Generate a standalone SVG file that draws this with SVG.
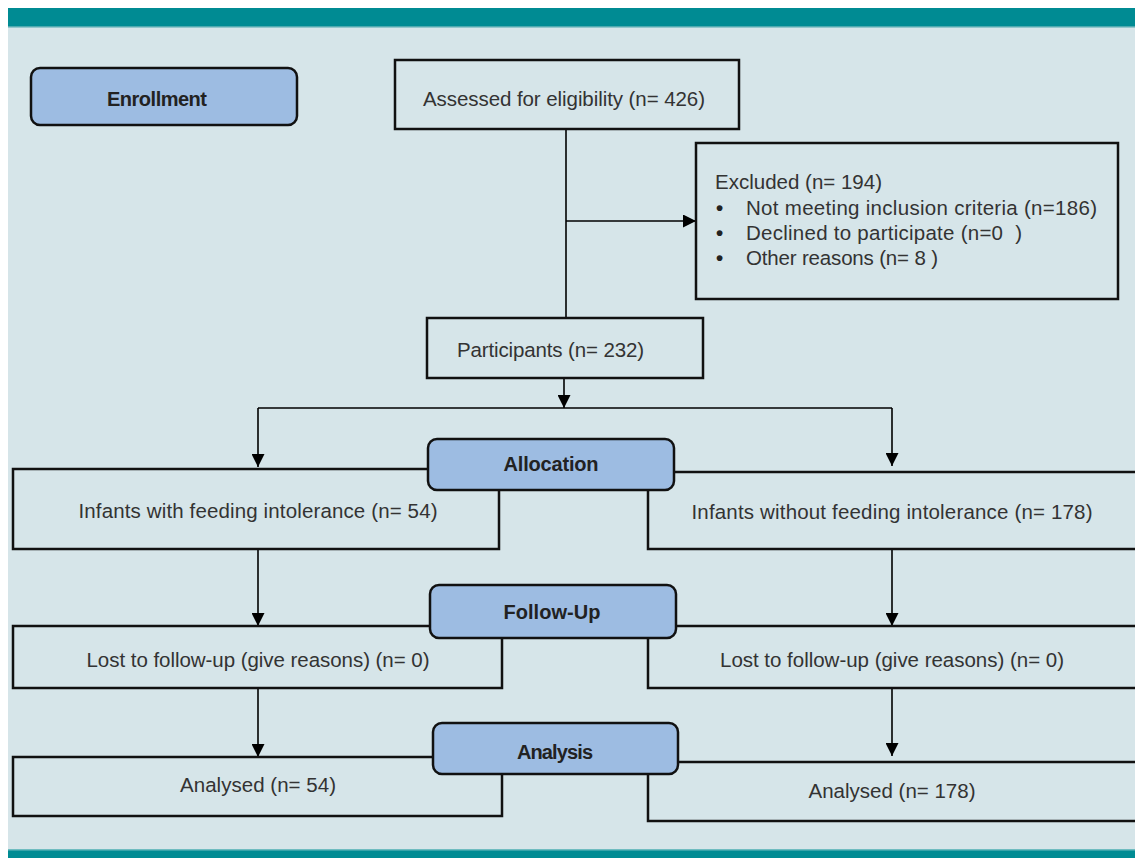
<svg xmlns="http://www.w3.org/2000/svg" width="1135" height="858" viewBox="0 0 1135 858">
<defs>
<marker id="arr" viewBox="0 0 13 13" refX="13" refY="6.5" markerWidth="13" markerHeight="13" markerUnits="userSpaceOnUse" orient="auto">
<path d="M0,0 L13,6.5 L0,13 Z" fill="#000"/>
</marker>
<style>
.box{fill:#D6E5E9;stroke:#111;stroke-width:2.5}
.stage{fill:#9DBCE2;stroke:#111;stroke-width:2.5}
.t{font-family:"Liberation Sans",Arial,sans-serif;font-size:20.5px;fill:#333}
.bul{font-family:"Liberation Sans",Arial,sans-serif;font-size:20.5px;font-weight:bold;fill:#222}
.b{font-family:"Liberation Sans",Arial,sans-serif;font-size:20px;font-weight:bold;fill:#222;text-anchor:middle}
.c{text-anchor:middle}
.ln{fill:none;stroke:#000;stroke-width:1.6}
</style>
</defs>
<rect x="0" y="0" width="1135" height="858" fill="#fff"/>
<rect x="8" y="8" width="1127" height="850" fill="#D6E5E9"/>
<rect x="8" y="8" width="1127" height="18" fill="#008B93"/>
<rect x="8" y="26" width="1127" height="1.5" fill="#4FAAB0"/>
<rect x="8" y="850" width="1127" height="8" fill="#008B93"/>
<rect x="8" y="849" width="1127" height="1.5" fill="#6FBCC0"/>

<g id="connectors">
<path class="ln" d="M566,129 V318"/>
<path class="ln" d="M566,221 H696" marker-end="url(#arr)"/>
<path class="ln" d="M564,378 V408" marker-end="url(#arr)"/>
<path class="ln" d="M258,408 H892"/>
<path class="ln" d="M258,408 V467" marker-end="url(#arr)"/>
<path class="ln" d="M892,408 V466" marker-end="url(#arr)"/>
<path class="ln" d="M258,549 V626" marker-end="url(#arr)"/>
<path class="ln" d="M892,549 V626" marker-end="url(#arr)"/>
<path class="ln" d="M258,688 V757" marker-end="url(#arr)"/>
<path class="ln" d="M892,688 V756" marker-end="url(#arr)"/>
</g>

<g id="enrollment">
<rect class="stage" x="31" y="68" width="266" height="57" rx="9"/>
<text class="b" x="157" y="106" textLength="100">Enrollment</text>
</g>

<g id="assessed">
<rect class="box" x="395" y="60" width="344" height="69"/>
<text class="t" x="423" y="106" textLength="282">Assessed for eligibility (n= 426)</text>
</g>

<g id="excluded">
<rect class="box" x="696" y="143" width="422" height="156"/>
<text class="t" x="715" y="189" textLength="167">Excluded (n= 194)</text>
<text class="bul" x="716" y="215">•</text>
<text class="t" x="746" y="215" textLength="351">Not meeting inclusion criteria (n=186)</text>
<text class="bul" x="716" y="240">•</text>
<text class="t" x="746" y="240" textLength="276" xml:space="preserve">Declined to participate (n=0  )</text>
<text class="bul" x="716" y="265">•</text>
<text class="t" x="746" y="265" textLength="192">Other reasons (n= 8 )</text>
</g>

<g id="participants">
<rect class="box" x="427" y="318" width="276" height="60"/>
<text class="t" x="457" y="357" textLength="187">Participants (n= 232)</text>
</g>

<g id="with-fi">
<rect class="box" x="13" y="469" width="486" height="80"/>
<text class="t c" x="258" y="518" textLength="359">Infants with feeding intolerance (n= 54)</text>
</g>

<g id="without-fi">
<rect class="box" x="648" y="472" width="500" height="77"/>
<text class="t c" x="892" y="519" textLength="401">Infants without feeding intolerance (n= 178)</text>
</g>

<g id="allocation">
<rect class="stage" x="428" y="439" width="246" height="51" rx="9"/>
<text class="b" x="551" y="471" textLength="95">Allocation</text>
</g>

<g id="lost-left">
<rect class="box" x="13" y="626" width="489" height="62"/>
<text class="t c" x="258" y="667" textLength="343">Lost to follow-up (give reasons) (n= 0)</text>
</g>

<g id="lost-right">
<rect class="box" x="648" y="626" width="500" height="62"/>
<text class="t c" x="892" y="667" textLength="344">Lost to follow-up (give reasons) (n= 0)</text>
</g>

<g id="follow-up">
<rect class="stage" x="430" y="585" width="246" height="53" rx="9"/>
<text class="b" x="552" y="619" textLength="97">Follow-Up</text>
</g>

<g id="analysed-left">
<rect class="box" x="13" y="757" width="489" height="59"/>
<text class="t c" x="258" y="792" textLength="156">Analysed (n= 54)</text>
</g>

<g id="analysed-right">
<rect class="box" x="648" y="762" width="500" height="59"/>
<text class="t c" x="892" y="798" textLength="167">Analysed (n= 178)</text>
</g>

<g id="analysis">
<rect class="stage" x="433" y="723" width="245" height="51" rx="9"/>
<text class="b" x="555" y="759" textLength="76">Analysis</text>
</g>
</svg>
